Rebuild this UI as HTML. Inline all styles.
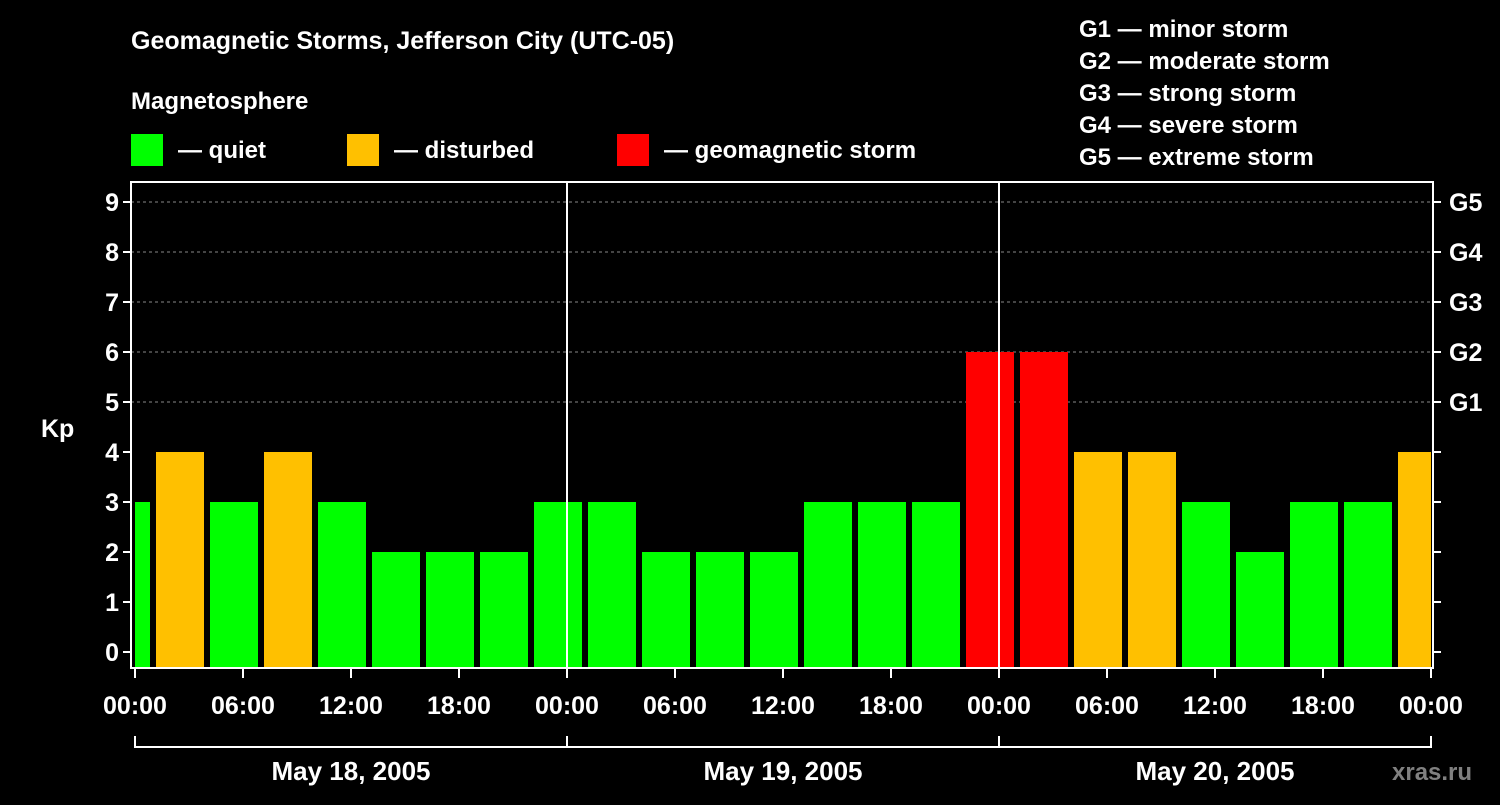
<!DOCTYPE html>
<html><head><meta charset="utf-8"><style>
body{margin:0;background:#000;}
svg text{font-family:"Liberation Sans",Arial,sans-serif;font-weight:bold;fill:#fff;}
</style></head><body>
<svg id="c" width="1500" height="800" xmlns="http://www.w3.org/2000/svg">
<rect width="1500" height="800" fill="#000"/>
<text x="131" y="49" font-size="25">Geomagnetic Storms, Jefferson City (UTC-05)</text>
<text x="131" y="109" font-size="24">Magnetosphere</text>
<g><rect x="131" y="134" width="32" height="32" fill="#00ff00"/><text x="178" y="158" font-size="24">— quiet</text></g>
<g><rect x="347" y="134" width="32" height="32" fill="#ffc000"/><text x="394" y="158" font-size="24">— disturbed</text></g>
<g><rect x="617" y="134" width="32" height="32" fill="#ff0000"/><text x="664" y="158" font-size="24">— geomagnetic storm</text></g>
<g font-size="24">
<text x="1079" y="37" font-size="24">G1 — minor storm</text>
<text x="1079" y="69" font-size="24">G2 — moderate storm</text>
<text x="1079" y="101" font-size="24">G3 — strong storm</text>
<text x="1079" y="133" font-size="24">G4 — severe storm</text>
<text x="1079" y="165" font-size="24">G5 — extreme storm</text>
</g>
<text x="41" y="437" font-size="25">Kp</text>
<text x="1392" y="780" font-size="24" style="fill:#808080">xras.ru</text>
<g id="plot"></g>
</svg>
<script>
const startValue = 3;
const values = [4,3,4,3,2,2,2,3,3,2,2,2,3,3,3,6,6,4,4,3,2,3,3,4];
const xTickLabels = ["00:00","06:00","12:00","18:00","00:00","06:00","12:00","18:00","00:00","06:00","12:00","18:00","00:00"];
const dateLabels = ["May 18, 2005","May 19, 2005","May 20, 2005"];
const gLabels = ["G1","G2","G3","G4","G5"];

const NS="http://www.w3.org/2000/svg";
const g=document.getElementById('plot');
const L=131,R=1433,T=182,B=668;
const x0=135,pxH=18;
const X=h=>x0+h*pxH;
const Y=v=>652-v*50;
function mk(t,a,p){const e=document.createElementNS(NS,t);for(const k in a)e.setAttribute(k,a[k]);(p||g).appendChild(e);return e;}
function col(v){return v>=5?"#ff0000":v>=4?"#ffc000":"#00ff00";}
// grid
for(let k=5;k<=9;k++){const e=mk('line',{x1:L,x2:R,y1:Y(k),y2:Y(k),stroke:"#888","stroke-dasharray":"3,3","stroke-width":1});

}
// bars
function bar(h0,h1,v,name){const a=Math.max(X(h0)+3,x0),b=Math.min(X(h1)-3,X(72));
const e=mk('rect',{x:a,y:Y(v),width:b-a,height:B-Y(v),fill:col(v)});

}
bar(-2,1,startValue,'bar-0');
values.forEach((v,i)=>bar(1+3*i,4+3*i,v,'bar-'+(i+1)));
// day separators
[24,48].forEach(h=>{const e=mk('line',{x1:X(h),x2:X(h),y1:T,y2:B,stroke:"#fff","stroke-width":2});

});
// frame
const f=mk('rect',{x:L,y:T,width:R-L,height:B-T,fill:"none",stroke:"#fff","stroke-width":2});


// y ticks
for(let k=0;k<=9;k++){
mk('line',{x1:L-8,x2:L,y1:Y(k),y2:Y(k),stroke:"#fff","stroke-width":2});
mk('line',{x1:R,x2:R+8,y1:Y(k),y2:Y(k),stroke:"#fff","stroke-width":2});
const t=mk('text',{x:L-12,y:Y(k)+9,"font-size":25,"text-anchor":"end"});t.textContent=k;

}
gLabels.forEach((s,i)=>{const t=mk('text',{x:R+16,y:Y(i+5)+9,"font-size":25});t.textContent=s;

});
// x ticks
xTickLabels.forEach((s,i)=>{const x=X(i*6);
mk('line',{x1:x,x2:x,y1:B,y2:B+10,stroke:"#fff","stroke-width":2});
const t=mk('text',{x:x,y:714,"font-size":25,"text-anchor":"middle"});t.textContent=s;

});
// date bracket
const bl=mk('line',{x1:X(0),x2:X(72),y1:747,y2:747,stroke:"#fff","stroke-width":2});


[0,24,48,72].forEach(h=>mk('line',{x1:X(h),x2:X(h),y1:736,y2:748,stroke:"#fff","stroke-width":2}));
dateLabels.forEach((s,i)=>{const t=mk('text',{x:X(12+24*i),y:780,"font-size":26,"text-anchor":"middle"});t.textContent=s;

});
</script>
</body></html>
